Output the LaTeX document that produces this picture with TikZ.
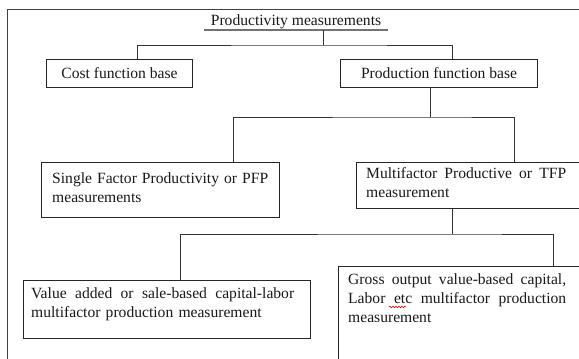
\documentclass[tikz,border=0pt]{standalone}
\usepackage{fontspec}
\setmainfont{Liberation Serif}
\usetikzlibrary{decorations.pathmorphing}
\newcommand\jline[2]{\leavevmode\hbox to #1{#2}}
\begin{document}
\begin{tikzpicture}[x=1pt,y=-1pt,
  lbl/.style={font=\fontsize{15.6}{19}\selectfont, text=black!90},
  box/.style={draw=black!85, line width=1pt, inner sep=0pt, anchor=north west, lbl},
  txt/.style={inner sep=0pt, anchor=north west, lbl},
  conn/.style={draw=black!80, line width=1pt},
  frame/.style={draw=black!75, line width=1pt},
  spell/.style={draw=red!85!black, line width=0.6pt, decorate, decoration={snake, amplitude=0.8pt, segment length=3pt}}]
\useasboundingbox (0,0) rectangle (579,359);
\fill[white] (0,0) rectangle (579,359);
\clip (0,0) rectangle (579,359);
% frame
\coordinate (ftl) at (7,9);
\coordinate (ftr) at (585,9);
\coordinate (fbl) at (7,365);
\draw[frame] (ftr) -- (ftl) -- (fbl);
% title
\node[lbl, inner sep=0pt, anchor=base, minimum width=183] (title) at (296,25) {Productivity measurements};
\draw[black!55, line width=1.6pt] ([yshift=-5pt]title.base west) -- ([yshift=-5pt]title.base east);
% level 1
\node[box, minimum width=146, minimum height=28] (cost) at (46,59) {Cost function base};
\node[box, minimum width=197, minimum height=28] (prod) at (340,59) {Production function base};
\coordinate (u1) at (323,30);
\coordinate (j1) at (323,45);
\draw[conn] (u1) -- (j1);
\draw[conn] ([xshift=18pt]cost.north) |- (j1) -| ([xshift=13.5pt]prod.north);
% level 2
\node[box, minimum width=238, minimum height=55] (sfp) at (41,162) {};
\node[txt, text width=216] (sfpt) at (52,172.5) {\jline{216pt}{Single\hfill Factor\hfill Productivity\hfill or\hfill PFP}\\measurements};
\node[box, minimum width=240, minimum height=46] (mf) at (356,162) {};
\node[txt, text width=200] (mft) at (366,167.5) {\jline{200pt}{Multifactor\hfill Productive\hfill or\hfill TFP}\\measurement};
\coordinate (j2) at (430,117);
\draw[conn] (prod.south -| j2) -- (j2);
\draw[conn] ([xshift=73pt]sfp.north) |- (j2) -| ([xshift=38pt]mf.north);
% level 3
\node[box, minimum width=287, minimum height=58] (val) at (23,280) {};
\node[txt, text width=263] (valt) at (31,287.5) {\jline{263pt}{Value\hfill added\hfill or\hfill sale-based\hfill capital-labor}\\multifactor production measurement};
\node[box, minimum width=260, minimum height=120] (gross) at (338,266) {};
\node[txt, text width=218] (grosst) at (348,273.5) {\jline{218pt}{Gross\hfill output\hfill value-based\hfill capital,}\\\jline{218pt}{Labor\hfill etc\hfill multifactor\hfill production}\\measurement};
\coordinate (w1) at (389,307);
\coordinate (w2) at (406,307);
\draw[spell] (w1) -- (w2);
\coordinate (j3) at (452,234);
\draw[conn] (mf.south -| j3) -- (j3);
\draw[conn] ([xshift=13.5pt]val.north) |- (j3) -| ([xshift=85pt]gross.north);
\end{tikzpicture}
\end{document}
